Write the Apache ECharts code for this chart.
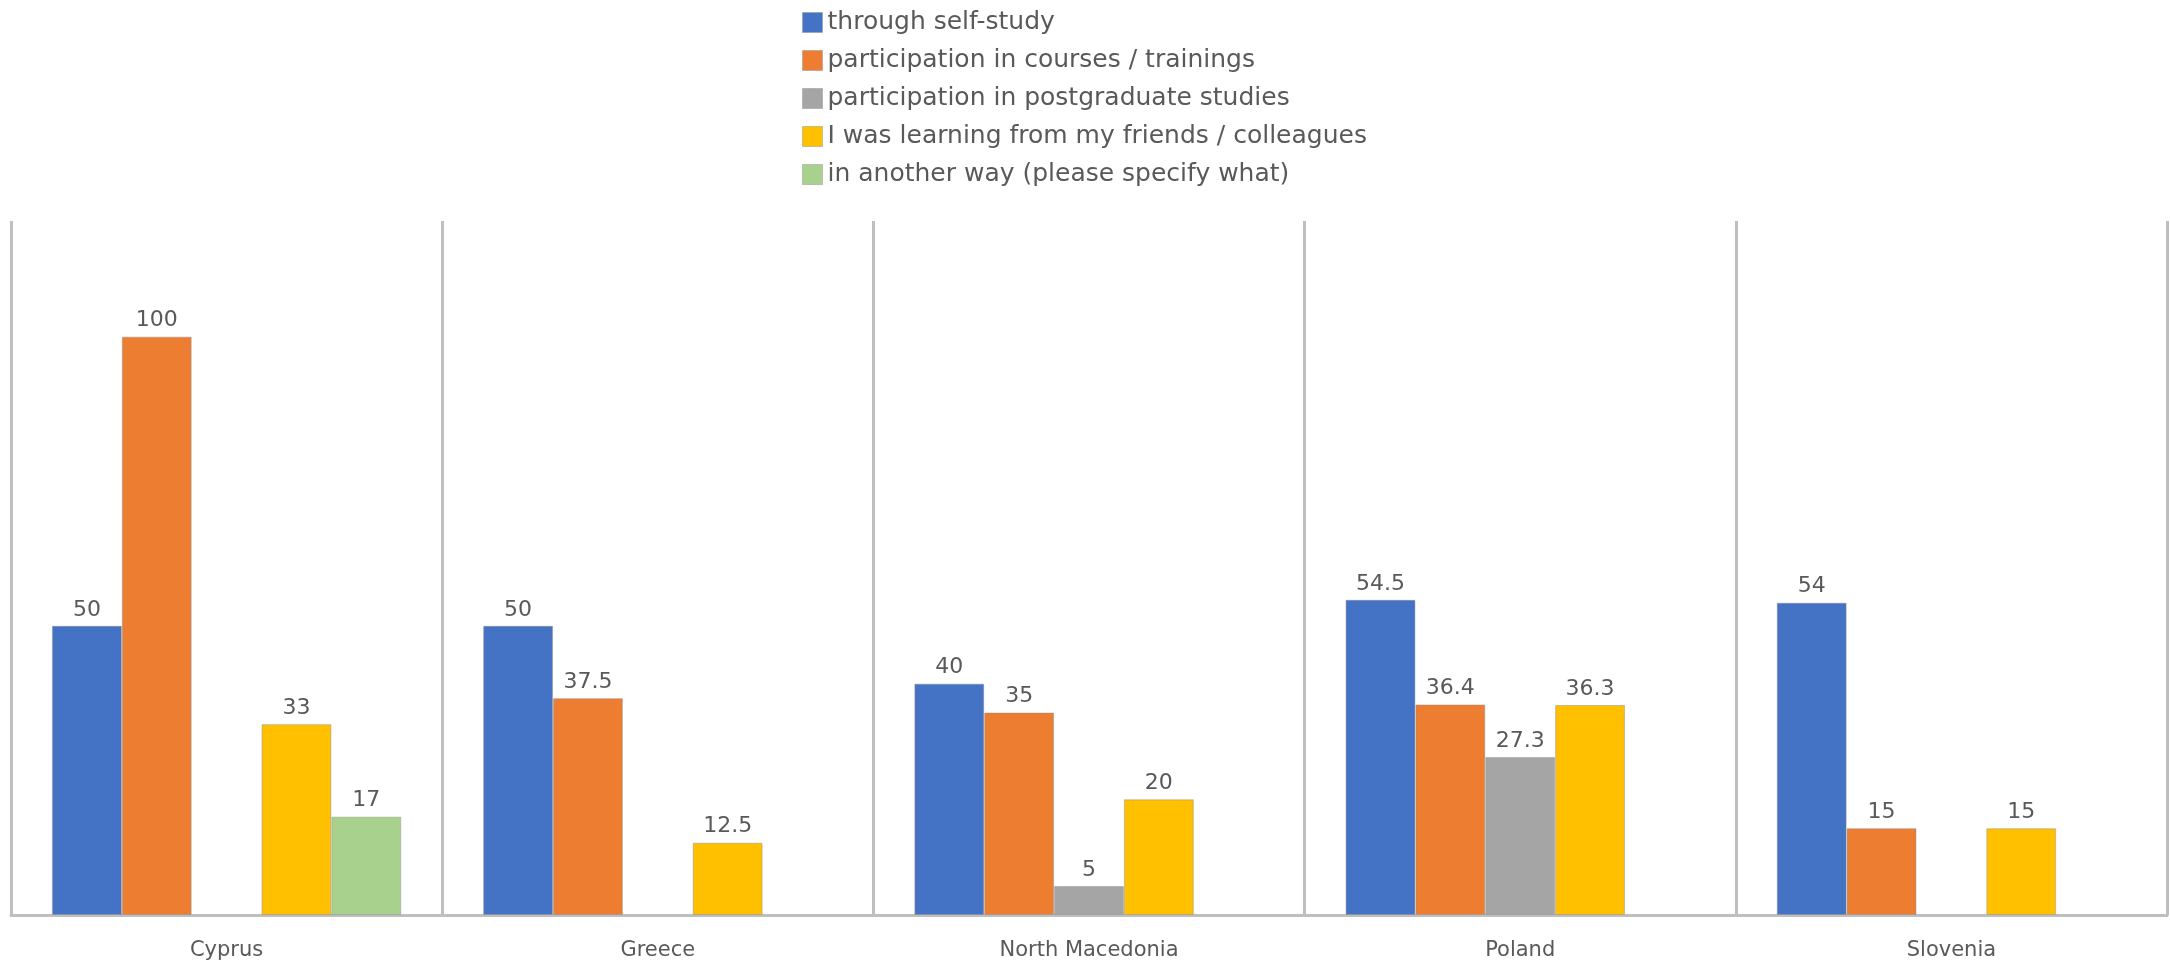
<!DOCTYPE html>
<html>
<head>
<meta charset="utf-8">
<script src="https://cdn.jsdelivr.net/npm/echarts@6/dist/echarts.min.js"></script>
<style>html,body{margin:0;padding:0;background:#fff}#c{width:2170px;height:963px}</style>
</head>
<body>
<div id="c"></div>
<script>
const categories = ['Cyprus', 'Greece', 'North Macedonia', 'Poland', 'Slovenia'];
const seriesNames = [
  'through self-study',
  'participation in courses / trainings',
  'participation in postgraduate studies',
  'I was learning from my friends / colleagues',
  'in another way (please specify what)'
];
const selfStudy = [50, 50, 40, 54.5, 54];
const courses = [100, 37.5, 35, 36.4, 15];
const postgraduate = [null, null, 5, 27.3, null];
const friends = [33, 12.5, 20, 36.3, 15];
const anotherWay = [17, null, null, null, null];
const colors = ['#4472C4', '#ED7D31', '#A5A5A5', '#FFC000', '#A9D18E'];

const allData = [selfStudy, courses, postgraduate, friends, anotherWay];
const FONT = 'DejaVu Sans';
const chart = echarts.init(document.getElementById('c'));
chart.setOption({
  animation: false,
  backgroundColor: '#ffffff',
  textStyle: { fontFamily: FONT },
  legend: {
    orient: 'vertical',
    left: 797,
    top: 5,
    itemWidth: 20,
    itemHeight: 20,
    itemGap: 13,
    icon: 'rect',
    itemStyle: { borderColor: 'rgba(150,150,150,0.5)', borderWidth: 1 },
    textStyle: { fontSize: 25, lineHeight: 25, color: '#595959', fontFamily: FONT },
    data: seriesNames
  },
  grid: { left: 11, right: 3, top: 221, bottom: 48, containLabel: false },
  xAxis: {
    type: 'category',
    data: categories,
    axisLine: { lineStyle: { color: '#BFBFBF', width: 3 } },
    axisTick: { show: false },
    splitLine: { show: true, interval: 0, lineStyle: { color: '#BFBFBF', width: 3 } },
    axisLabel: { fontSize: 21, color: '#595959', margin: 25, fontFamily: FONT }
  },
  yAxis: {
    type: 'value',
    min: 0,
    max: 120,
    interval: 20,
    show: false,
    splitLine: { show: false }
  },
  series: seriesNames.map((name, i) => ({
    name: name,
    type: 'bar',
    data: allData[i],
    barGap: '0%',
    barCategoryGap: '19%',
    itemStyle: { color: colors[i], borderColor: 'rgba(140,140,140,0.45)', borderWidth: 1 },
    label: {
      show: true,
      position: 'top',
      distance: 5,
      fontSize: 22,
      color: '#595959',
      fontFamily: FONT
    }
  }))
});
</script>
</body>
</html>
